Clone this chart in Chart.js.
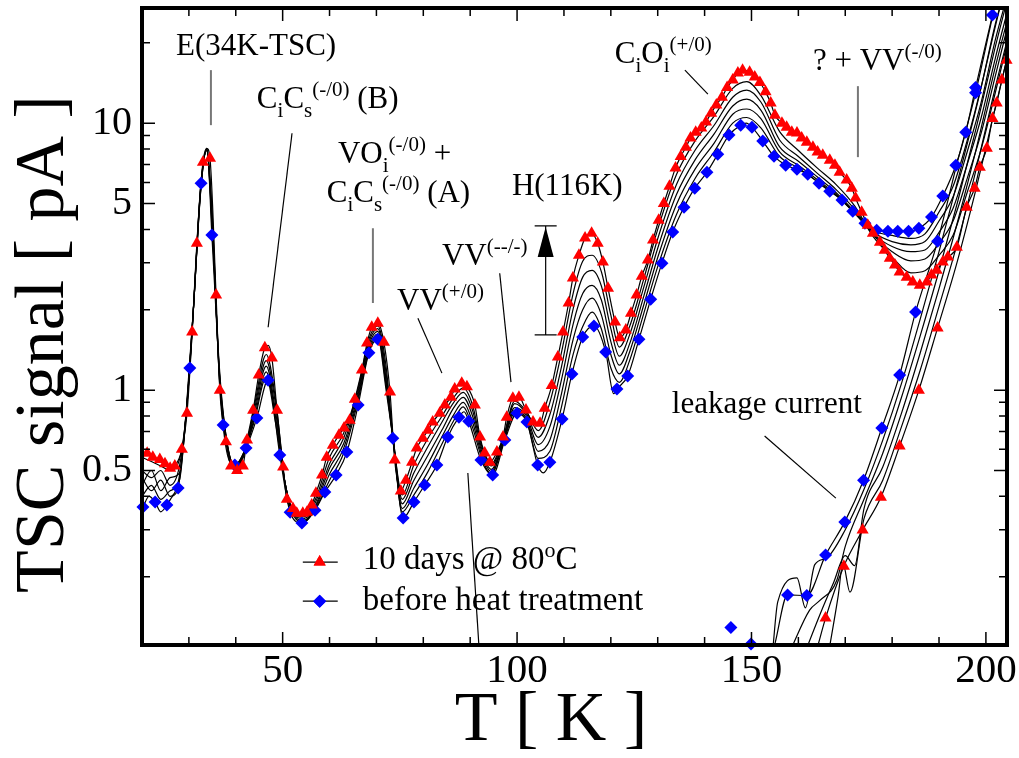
<!DOCTYPE html>
<html>
<head>
<meta charset="utf-8">
<script src="https://cdn.jsdelivr.net/npm/chart.js@4.4.0/dist/chart.umd.min.js"></script>
<style>
html, body { margin: 0; padding: 0; background: #fff; }
#wrap { width: 1019px; height: 758px; }
</style>
</head>
<body>
<div id="wrap"><canvas id="tsc" width="1019" height="758" style="width:1019px;height:758px"></canvas></div>
<script>
const SERIF = '"Liberation Serif", "Times New Roman", serif';

// axis ticks
const xTickLabels = [50, 100, 150, 200];
const xMinorTicks = [30, 40, 60, 70, 80, 90, 110, 120, 130, 140, 160, 170, 180, 190];
const yTickLabels = [0.5, 1, 5, 10];
const yMinorTicks = [0.2, 0.3, 0.4, 0.6, 0.7, 0.8, 0.9, 2, 3, 4, 6, 7, 8, 9, 20];

// "10 days @ 80oC" curve, red triangles (T in K, signal in pA)
const redT = [21.1, 22.3, 23.8, 24.9, 26.0, 27.0, 28.5, 29.6, 30.7, 31.7, 33.0, 34.5, 35.8, 36.6, 37.9, 39.0, 40.3, 41.5, 42.4, 43.7,
  44.9, 46.2, 47.7, 48.8, 50.1, 50.9, 52.2, 53.0, 54.3, 55.2, 56.2, 57.1, 58.4, 59.4, 60.7, 62.0, 63.1, 64.3, 65.4, 66.9,
  68.0, 69.0, 70.3, 71.6, 72.9, 73.9, 75.2, 76.3, 77.6, 78.6, 79.9, 81.0, 82.0, 83.5, 84.6, 85.9, 86.7, 88.2, 89.3, 91.0,
  92.1, 93.1, 94.2, 95.7, 97.0, 97.8, 99.1, 100.4, 101.9, 103.4, 104.9, 105.9, 107.4, 108.7, 109.8, 111.0, 111.9, 113.2, 114.5, 115.9,
  117.2, 118.3, 119.4, 120.9, 121.9, 123.2, 124.3, 125.5, 126.6, 127.9, 129.0, 130.2, 131.3, 132.5, 133.8, 134.9, 136.0, 137.0, 138.1, 139.3,
  140.3, 141.4, 142.5, 143.7, 144.8, 146.0, 147.1, 148.1, 149.6, 150.7, 151.8, 153.0, 154.1, 155.0, 156.5, 157.5, 158.6, 159.7, 160.7, 161.8,
  163.1, 164.1, 165.2, 166.7, 167.8, 168.8, 170.3, 171.4, 172.2, 173.5, 174.8, 175.9, 177.4, 178.4, 179.5, 180.6, 181.6, 183.1, 184.4, 185.9,
  187.4, 188.4, 189.5, 190.8, 191.9, 193.8, 195.9, 197.6, 198.7, 200.2, 201.4, 202.3, 203.4, 204.4];
const redY = [0.58, 0.56, 0.55, 0.53, 0.51, 0.52, 0.60, 0.82, 1.65, 3.55, 7.14, 7.39, 2.27, 1.00, 0.64, 0.52, 0.50, 0.52, 0.65, 0.84,
  1.14, 1.44, 1.32, 0.84, 0.515, 0.39, 0.36, 0.346, 0.346, 0.349, 0.371, 0.411, 0.481, 0.561, 0.622, 0.678, 0.721, 0.772, 0.925, 1.19,
  1.50, 1.72, 1.78, 1.51, 0.983, 0.547, 0.419, 0.460, 0.537, 0.607, 0.661, 0.708, 0.759, 0.820, 0.879, 0.941, 1.01, 1.06, 1.03, 0.879,
  0.667, 0.581, 0.537, 0.586, 0.667, 0.792, 0.933, 0.941, 0.842, 0.759, 0.752, 0.856, 1.04, 1.33, 1.65, 2.12, 2.63, 3.20, 3.71, 3.87,
  3.55, 3.02, 2.41, 1.80, 1.57, 1.68, 1.94, 2.27, 2.67, 3.07, 3.65, 4.33, 5.0, 5.8, 6.8, 7.5, 8.13, 8.79, 9.25, 9.6,
  10.1, 10.9, 11.7, 12.5, 13.6, 14.5, 15.4, 15.8, 15.5, 14.9, 14.2, 13.1, 11.9, 10.7, 10.0, 9.66, 9.25, 9.18, 8.79, 8.49,
  8.13, 7.79, 7.59, 7.27, 6.96, 6.55, 6.12, 5.71, 5.24, 4.64, 4.15, 3.87, 3.58, 3.34, 3.12, 2.94, 2.77, 2.65, 2.54, 2.47,
  2.54, 2.70, 2.81, 3.02, 3.15, 3.43, 4.84, 5.71, 6.84, 8.06, 10.4, 11.9, 14.5, 17.2];
// extra unmarked points on the same red curve (peak tops between markers)
const redLineT = [33.8, 46.9];
const redLineY = [8.05, 1.47];

// "before heat treatment" curve, blue diamonds
const blueT = [20.2, 22.8, 25.3, 27.7, 30.2, 32.6, 34.9, 37.3, 39.8, 42.2, 44.5, 46.9, 49.4, 51.6, 54.1, 56.9, 59.0, 61.4, 63.7, 66.1,
  68.4, 70.3, 73.5, 75.7, 78.0, 80.3, 82.9, 85.2, 87.6, 89.7, 92.3, 94.8, 97.4, 100.0, 102.1, 104.4, 107.0, 109.6, 111.7, 114.0,
  116.4, 118.9, 121.3, 123.6, 126.0, 128.5, 130.9, 133.2, 135.6, 137.9, 140.5, 142.8, 145.2, 147.7, 150.1, 152.4, 154.8, 157.3, 159.7, 162.0,
  164.4, 166.7, 169.3, 171.6, 174.2, 176.7, 179.1, 181.2, 183.5, 185.7, 188.4, 190.8, 193.6, 195.7, 197.8, 201.4];
const blueY = [0.365, 0.381, 0.371, 0.430, 1.21, 5.96, 3.81, 0.740, 0.524, 0.607, 0.786, 1.09, 0.571, 0.349, 0.318, 0.355, 0.415, 0.481, 0.586, 0.879,
  1.38, 1.55, 0.661, 0.332, 0.381, 0.441, 0.524, 0.667, 0.792, 0.765, 0.547, 0.481, 0.650, 0.820, 0.759, 0.524, 0.537, 0.779, 1.15, 1.58,
  1.74, 1.39, 1.01, 1.13, 1.55, 2.19, 2.99, 3.91, 4.84, 5.71, 6.55, 7.65, 9.02, 9.83, 9.66, 8.57, 7.52, 6.96, 6.72, 6.44,
  5.96, 5.56, 5.15, 4.68, 4.22, 3.97, 3.94, 3.94, 3.94, 4.04, 4.45, 5.33, 6.96, 9.25, 13.6, 25.4];
const blueLineT = [21.5, 24.0, 26.5, 33.9, 88.7, 105.6, 120.6, 148.9];
const blueLineY = [0.40, 0.35, 0.40, 7.9, 0.83, 0.49, 0.97, 10.0];

// intermediate annealing curves (black lines, red side -> blue side)
const interT = [20, 22, 24, 26, 28, 29.5, 31, 32.5, 33.8, 35, 36.5, 38, 39.8, 42, 44, 46.5, 48.5, 50.5, 52.5, 54.5,
  57, 60, 63, 66, 68.5, 70.3, 72, 73.5, 75.5, 78, 81, 84, 86.5, 88.5, 90.5, 92.5, 94.5, 97, 99.5, 102,
  104.5, 107, 109.5, 112, 114, 116, 118, 120, 121.8, 124, 127, 130, 134, 138, 142, 146, 149, 152, 156, 160,
  164, 168, 172, 176, 180, 184, 187, 190, 193, 196, 199, 202, 205];
const inter1 = [.56, .54, .52, .50, .55, .84, 2.06, 5.5, 8.05, 4.5, 1.1, .64, .51, .59, .88, 1.36, .92, .45, .35, .34,
  .39, .56, .69, 1.0, 1.57, 1.74, 1.25, .68, .405, .525, .66, .80, .94, 1.02, .88, .615, .53, .66, .91, .83,
  .705, .90, 1.39, 2.32, 3.04, 3.20, 2.77, 1.91, 1.45, 1.73, 2.6, 4.0, 6.42, 8.6, 10.6, 13.5, 14.3, 12.7, 9.3, 7.9,
  6.8, 5.9, 4.9, 3.75, 3.15, 2.75, 2.8, 3.2, 3.8, 5.5, 8.0, 13, 21.5];
const inter2 = [.50, .47, .50, .44, .52, .84, 2.06, 5.55, 8.0, 4.3, 1.12, .65, .51, .59, .85, 1.29, .88, .45, .345, .335,
  .38, .53, .66, .975, 1.53, 1.70, 1.18, .68, .39, .49, .615, .76, .90, .98, .84, .60, .52, .65, .89, .815,
  .665, .81, 1.23, 2.03, 2.65, 2.81, 2.45, 1.70, 1.34, 1.61, 2.42, 3.69, 5.89, 7.93, 9.8, 12.5, 13.3, 12.0, 8.65, 7.5,
  6.5, 5.65, 4.75, 3.8, 3.3, 3.05, 3.1, 3.55, 4.3, 6.2, 9.2, 15, 24.5];
const inter3 = [.44, .50, .42, .47, .49, .85, 2.06, 5.6, 8.0, 4.1, 1.15, .65, .515, .59, .82, 1.23, .83, .45, .34, .33,
  .37, .51, .63, .95, 1.49, 1.66, 1.12, .67, .375, .46, .57, .71, .86, .94, .80, .585, .505, .64, .86, .80,
  .625, .73, 1.10, 1.78, 2.30, 2.47, 2.17, 1.52, 1.24, 1.49, 2.24, 3.4, 5.4, 7.3, 9.1, 11.6, 12.3, 11.2, 8.15, 7.2,
  6.3, 5.5, 4.65, 3.85, 3.45, 3.3, 3.35, 3.9, 4.8, 7.0, 10.5, 17.5, 28];
const inter4 = [.47, .42, .46, .40, .48, .86, 2.06, 5.7, 7.95, 4.0, 1.18, .66, .52, .60, .79, 1.17, .79, .45, .34, .325,
  .365, .485, .605, .925, 1.45, 1.62, 1.06, .67, .36, .43, .53, .67, .81, .90, .76, .57, .495, .635, .84, .785,
  .59, .65, .975, 1.56, 2.0, 2.21, 1.91, 1.36, 1.15, 1.39, 2.08, 3.14, 4.96, 6.74, 8.4, 10.8, 11.3, 10.4, 7.8, 6.95,
  6.15, 5.42, 4.6, 3.9, 3.6, 3.5, 3.6, 4.3, 5.3, 7.8, 12, 20.5, 32];
const inter5 = [.40, .44, .39, .42, .46, .87, 2.06, 5.8, 7.9, 3.9, 1.22, .66, .52, .60, .77, 1.12, .75, .45, .335, .32,
  .36, .46, .58, .90, 1.42, 1.58, 1.02, .665, .35, .405, .495, .63, .77, .865, .725, .555, .485, .625, .82, .77,
  .555, .59, .87, 1.37, 1.73, 1.96, 1.69, 1.21, 1.07, 1.29, 1.93, 2.9, 4.55, 6.22, 7.8, 10.0, 10.5, 9.6, 7.5, 6.8,
  6.05, 5.38, 4.6, 3.95, 3.8, 3.7, 3.85, 4.65, 5.8, 8.6, 13.7, 23.5, 36];

// leakage current curves
const blueLeakT = [145.6, 149.9, 157.7, 161.8, 165.8, 169.9, 173.9, 177.8, 181.6, 185.0, 189.7, 197.8];
const blueLeakY = [0.129, 0.112, 0.171, 0.170, 0.241, 0.321, 0.460, 0.721, 1.14, 1.96, 3.61, 13.0];
const blueLeakLineT = [155.0, 157.7, 161.8, 165.8, 169.9, 173.9, 177.8, 181.6, 185.0, 189.7, 193.6, 197.8, 201.8];
const blueLeakLineY = [0.112, 0.171, 0.170, 0.241, 0.321, 0.460, 0.721, 1.14, 1.96, 3.61, 6.8, 13.0, 27];
const redLeakT = [165.8, 169.7, 173.7, 177.6, 181.6, 185.7, 189.7];
const redLeakY = [0.140, 0.219, 0.299, 0.397, 0.617, 1.00, 1.71];
const redLeakLineT = [164.2, 165.8, 169.7, 173.7, 177.6, 181.6, 185.7, 189.7, 193.8, 197.6, 201.4, 205];
const redLeakLineY = [0.111, 0.140, 0.219, 0.299, 0.397, 0.617, 1.00, 1.71, 2.99, 5.4, 10.3, 19];
const leakAT = [154.5, 155.6, 159.7, 161.5, 163.5, 166, 170, 174, 178, 182, 186, 190, 194, 198, 202, 205];
const leakAY = [0.105, 0.161, 0.198, 0.153, 0.222, 0.235, 0.30, 0.425, 0.65, 1.06, 1.85, 3.3, 6.1, 11.5, 23, 38];
const leakBT = [158.2, 162.4, 164.6, 168.2, 170, 174, 178, 182, 186, 190, 194, 198, 202, 205];
const leakBY = [0.105, 0.150, 0.163, 0.194, 0.26, 0.39, 0.58, 0.94, 1.6, 2.8, 5.1, 9.7, 19.3, 31];
const leakCT = [161.5, 165, 167.5, 170, 172, 174, 178, 182, 186, 190, 194, 198, 202, 205];
const leakCY = [0.105, 0.15, 0.19, 0.24, 0.22, 0.36, 0.515, 0.82, 1.38, 2.4, 4.3, 8.1, 16.2, 26];
const leakDT = [166.5, 168.5, 169.5, 171, 174, 178, 182, 186, 190, 194, 198, 202, 205];
const leakDY = [0.105, 0.17, 0.225, 0.175, 0.33, 0.46, 0.73, 1.19, 2.06, 3.6, 6.8, 13.6, 22];

const pts = (xs, ys) => xs.map((x, i) => ({ x: x, y: ys[i] }));
const merged = (a, b) => a.concat(b).sort((p, q) => p.x - q.x);

function blackLine(data) {
    return {
        data: data, showLine: true, borderColor: '#000', borderWidth: 1.2,
        pointRadius: 0, cubicInterpolationMode: 'monotone', fill: false, order: 3
    };
}
function markers(data, style, radius, color) {
    return {
        data: data, showLine: false, pointStyle: style, pointRadius: radius,
        pointBackgroundColor: color, pointBorderWidth: 0, clip: false, order: 1
    };
}

// annotation texts and leader lines, positioned in data units
const notes = [
    { x: 27.25, y: 17.98, parts: [['E(34K-TSC)', 'n']] },
    { x: 44.5, y: 11.4, parts: [['C', 'n'], ['i', 'sub'], ['C', 'n'], ['s', 'sub'], ['(-/0)', 'sup'], [' (B)', 'n']] },
    { x: 61.8, y: 7.08, parts: [['VO', 'n'], ['i', 'sub'], ['(-/0)', 'sup'], [' +', 'n']] },
    { x: 59.4, y: 5.06, parts: [['C', 'n'], ['i', 'sub'], ['C', 'n'], ['s', 'sub'], ['(-/0)', 'sup'], [' (A)', 'n']] },
    { x: 74.4, y: 1.99, parts: [['VV', 'n'], ['(+/0)', 'sup']] },
    { x: 83.97, y: 2.94, parts: [['VV', 'n'], ['(--/-)', 'sup']] },
    { x: 98.9, y: 5.38, parts: [['H(116K)', 'n']] },
    { x: 120.85, y: 16.78, parts: [['C', 'n'], ['i', 'sub'], ['O', 'n'], ['i', 'sub'], ['(+/0)', 'sup']] },
    { x: 163.1, y: 15.8, parts: [['? + VV', 'n'], ['(-/0)', 'sup']] },
    { x: 133.0, y: 0.82, parts: [['leakage current', 'n']] }
];
const leaders = [
    { x1: 34.7, y1: 15.8, x2: 34.7, y2: 9.83, grey: true },
    { x1: 52.0, y1: 9.17, x2: 46.9, y2: 1.72 },
    { x1: 69.25, y1: 4.04, x2: 69.25, y2: 2.12, grey: true },
    { x1: 78.85, y1: 1.86, x2: 83.97, y2: 1.158 },
    { x1: 96.3, y1: 2.74, x2: 98.7, y2: 1.071 },
    { x1: 135.8, y1: 15.8, x2: 140.7, y2: 12.84 },
    { x1: 172.7, y1: 13.76, x2: 172.7, y2: 7.46, grey: true },
    { x1: 152.8, y1: 0.673, x2: 168.0, y2: 0.394 },
    { x1: 89.5, y1: 0.489, x2: 91.85, y2: 0.111 }
];

function richText(ctx, x, y, parts, big, small) {
    let cx = x;
    for (const [txt, kind] of parts) {
        ctx.font = (kind === 'n' ? big : small) + 'px ' + SERIF;
        const dy = kind === 'sub' ? 9 : (kind === 'sup' ? -12 : 0);
        ctx.fillText(txt, cx, y + dy);
        cx += ctx.measureText(txt).width;
    }
}

const annotations = {
    id: 'annotations',
    afterDatasetsDraw(chart) {
        const { ctx, scales: { x, y } } = chart;
        const px = v => x.getPixelForValue(v);
        const py = v => y.getPixelForValue(v);
        ctx.save();
        leaders.forEach(l => {
            ctx.strokeStyle = l.grey ? '#777' : '#000';
            ctx.lineWidth = l.grey ? 2 : 1.2;
            ctx.beginPath();
            ctx.moveTo(px(l.x1), py(l.y1));
            ctx.lineTo(px(l.x2), py(l.y2));
            ctx.stroke();
        });

        // growth arrow of the H(116K) peak
        const ax = px(106.1), top = py(4.12), bot = py(1.61);
        ctx.strokeStyle = '#000';
        ctx.lineWidth = 1.2;
        ctx.beginPath();
        ctx.moveTo(ax, bot); ctx.lineTo(ax, top);
        ctx.moveTo(ax - 11, top); ctx.lineTo(ax + 11, top);
        ctx.moveTo(ax - 11, bot); ctx.lineTo(ax + 11, bot);
        ctx.stroke();
        ctx.fillStyle = '#000';
        ctx.beginPath();
        ctx.moveTo(ax, top + 1); ctx.lineTo(ax + 8, top + 31); ctx.lineTo(ax - 8, top + 31);
        ctx.closePath(); ctx.fill();

        ctx.fillStyle = '#000';
        ctx.textAlign = 'left';
        ctx.textBaseline = 'alphabetic';
        notes.forEach(n => richText(ctx, px(n.x), py(n.y), n.parts, 31, 21));

        // legend
        const rows = [
            { y: 0.227, base: 0.2136, style: 'triangle', r: 7, color: '#ff0000',
              parts: [['10 days @ 80', 'n'], ['o', 'sup'], ['C', 'n']] },
            { y: 0.162, base: 0.150, style: 'rectRot', r: 6.5, color: '#0000ff',
              parts: [['before heat treatment', 'n']] }
        ];
        rows.forEach(r => {
            ctx.strokeStyle = '#000';
            ctx.lineWidth = 1.2;
            ctx.beginPath();
            ctx.moveTo(px(54.3), py(r.y)); ctx.lineTo(px(61.75), py(r.y));
            ctx.stroke();
            ctx.fillStyle = r.color;
            Chart.helpers.drawPoint(ctx, { pointStyle: r.style, radius: r.r, borderWidth: 0 }, px(57.9), py(r.y));
            ctx.fill();
            ctx.fillStyle = '#000';
            richText(ctx, px(67.1), py(r.base), r.parts, 33, 22);
        });
        ctx.restore();
    }
};

const frame = {
    id: 'frame',
    afterDraw(chart) {
        const { ctx, chartArea: a, scales: { x, y } } = chart;
        ctx.save();
        ctx.strokeStyle = '#000';
        ctx.lineWidth = 1.5;
        const xt = (vals, len) => vals.forEach(v => {
            const p = x.getPixelForValue(v);
            ctx.beginPath();
            ctx.moveTo(p, a.bottom); ctx.lineTo(p, a.bottom - len);
            ctx.moveTo(p, a.top); ctx.lineTo(p, a.top + len);
            ctx.stroke();
        });
        const yt = (vals, len) => vals.forEach(v => {
            const p = y.getPixelForValue(v);
            ctx.beginPath();
            ctx.moveTo(a.left, p); ctx.lineTo(a.left + len, p);
            ctx.moveTo(a.right, p); ctx.lineTo(a.right - len, p);
            ctx.stroke();
        });
        xt(xTickLabels, 13); xt(xMinorTicks, 8);
        yt(yTickLabels, 13); yt(yMinorTicks, 8);
        ctx.lineWidth = 4;
        ctx.strokeRect(a.left, a.top, a.right - a.left, a.bottom - a.top);

        ctx.fillStyle = '#000';
        ctx.font = '70px ' + SERIF;
        ctx.textAlign = 'center';
        ctx.textBaseline = 'alphabetic';
        ctx.fillText('T [ K ]', 551, 740);
        ctx.translate(63, 344);
        ctx.rotate(-Math.PI / 2);
        ctx.fillText('TSC signal [ pA ]', 0, 0);
        ctx.restore();
    }
};

new Chart(document.getElementById('tsc'), {
    type: 'line',
    data: {
        datasets: [
            markers(pts(redT, redY), 'triangle', 7, '#ff0000'),
            markers(pts(blueT, blueY), 'rectRot', 6.5, '#0000ff'),
            markers(pts(redLeakT, redLeakY), 'triangle', 7, '#ff0000'),
            markers(pts(blueLeakT, blueLeakY), 'rectRot', 6.5, '#0000ff'),
            blackLine(merged(pts(redT, redY), pts(redLineT, redLineY))),
            blackLine(merged(pts(blueT, blueY), pts(blueLineT, blueLineY))),
            blackLine(pts(interT, inter1)),
            blackLine(pts(interT, inter2)),
            blackLine(pts(interT, inter3)),
            blackLine(pts(interT, inter4)),
            blackLine(pts(interT, inter5)),
            blackLine(pts(blueLeakLineT, blueLeakLineY)),
            blackLine(pts(redLeakLineT, redLeakLineY)),
            blackLine(pts(leakAT, leakAY)),
            blackLine(pts(leakBT, leakBY)),
            blackLine(pts(leakCT, leakCY)),
            blackLine(pts(leakDT, leakDY))
        ]
    },
    options: {
        responsive: false,
        animation: false,
        layout: { padding: { left: 0, top: 8, right: 12, bottom: 0 } },
        plugins: { legend: { display: false }, tooltip: { enabled: false } },
        scales: {
            x: {
                type: 'linear', min: 20, max: 204.5,
                grid: { display: false, drawTicks: false }, border: { display: false },
                afterBuildTicks: s => { s.ticks = xTickLabels.map(v => ({ value: v })); },
                afterFit: s => { s.height = 113; s.paddingLeft = 0; s.paddingRight = 0; },
                ticks: { font: { family: SERIF, size: 41 }, color: '#000', padding: 2, maxRotation: 0, autoSkip: false }
            },
            y: {
                type: 'logarithmic', min: 0.111, max: 27,
                grid: { display: false, drawTicks: false }, border: { display: false },
                afterBuildTicks: s => { s.ticks = yTickLabels.map(v => ({ value: v })); },
                afterFit: s => { s.width = 142; s.paddingTop = 0; s.paddingBottom = 0; },
                ticks: { font: { family: SERIF, size: 40 }, color: '#000', padding: 10, autoSkip: false,
                         callback: v => String(v) }
            }
        }
    },
    plugins: [annotations, frame]
});
</script>
</body>
</html>
